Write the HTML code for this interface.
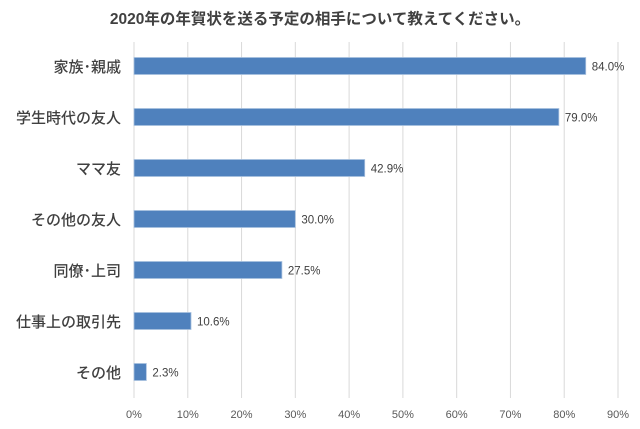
<!DOCTYPE html>
<html><head><meta charset="utf-8"><style>
body{margin:0;background:#fff;}
svg text{font-family:"Liberation Sans","Noto Sans CJK JP",sans-serif;}
</style></head><body>
<svg width="640" height="424" xmlns="http://www.w3.org/2000/svg">
<text x="320" y="24" text-anchor="middle" font-size="15.5" font-weight="bold" fill="#404040">2020年の年賀状を送る予定の相手について教えてください。</text>
<g id="grid"></g>
<g id="bars"></g>
<g id="xt"></g>
</svg>
<script>
const categories=["家族･親戚","学生時代の友人","ママ友","その他の友人","同僚･上司","仕事上の取引先","その他"];
const values=[84.0,79.0,42.9,30.0,27.5,10.6,2.3];
const tickValues=[0,10,20,30,40,50,60,70,80,90];
const ns="http://www.w3.org/2000/svg";
const x=v=>134+v*(618-134)/90;
const y=i=>66+i*51;
function mk(t,a,p){const e=document.createElementNS(ns,t);for(const k in a)e.setAttribute(k,a[k]);p.appendChild(e);return e;}
const g=document.getElementById('grid'),b=document.getElementById('bars'),xt=document.getElementById('xt');
tickValues.forEach(v=>{
 const l=mk('line',{x1:x(v),x2:x(v),y1:42,y2:398,stroke:'#d9d9d9','stroke-width':1},g);
 
 
 const t=mk('text',{x:x(v),y:418,'text-anchor':'middle','font-size':11,fill:'#595959'},xt);
 t.textContent=v+'%';
 
 
});
categories.forEach((c,i)=>{
 const r=mk('rect',{x:x(0),y:y(i)-8.5,width:x(values[i])-x(0),height:17,fill:'#4f81bd',stroke:'#a7c0de','stroke-width':0.8},b);
 
 
 const t=mk('text',{x:x(values[i])+6,y:y(i)+4.5,'font-size':11.5,fill:'#404040'},b);
 t.textContent=values[i].toFixed(1)+'%';
 
 
 const cl=mk('text',{x:121,y:y(i)+6,'text-anchor':'end','font-size':15,'font-weight':'500',fill:'#404040'},b);
 cl.textContent=c;
 
 
});
</script>
</body></html>
